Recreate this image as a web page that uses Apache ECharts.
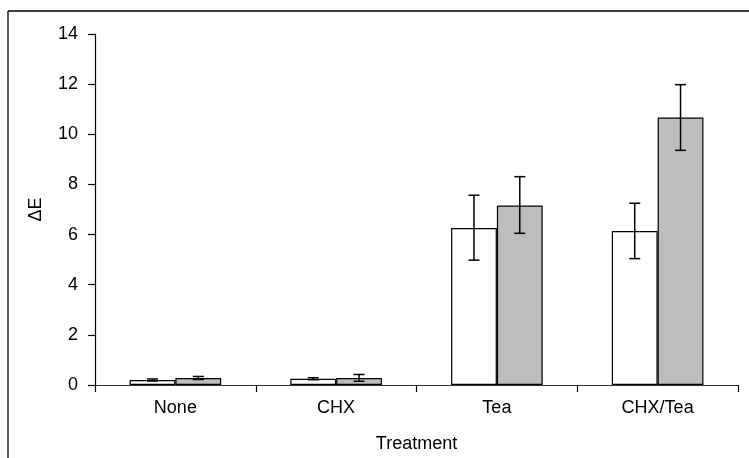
<!DOCTYPE html>
<html>
<head>
<meta charset="utf-8">
<script src="https://cdn.jsdelivr.net/npm/echarts@6/dist/echarts.min.js"></script>
<style>
  html, body { margin: 0; padding: 0; background: #fff; }
  #chart { width: 749px; height: 458px; }
</style>
</head>
<body>
<div id="chart"></div>
<script>
// Treatment groups on the x axis
const categories = ['None', 'CHX', 'Tea', 'CHX/Tea'];
// Mean colour change (ΔE) for the two groups
const whiteMeans = [0.20, 0.25, 6.26, 6.14];
const grayMeans  = [0.28, 0.28, 7.16, 10.67];
// Error bar limits [low, high]
const whiteErr = [[0.16, 0.24], [0.21, 0.29], [4.98, 7.57], [5.04, 7.25]];
const grayErr  = [[0.22, 0.34], [0.15, 0.42], [6.05, 8.31], [9.36, 11.98]];
// Y axis ticks
const yTicks = { min: 0, max: 14, interval: 2 };

const FONT = 'Liberation Sans, Arial, sans-serif';
const FS = 18;
const GAP = 0.43; // category gap fraction

function errorSeries(err, side) {
  return {
    type: 'custom',
    z: 10,
    data: err.map((e, i) => [i, e[0], e[1]]),
    renderItem: function (params, api) {
      const i = api.value(0);
      const lo = api.coord([i, api.value(1)]);
      const hi = api.coord([i, api.value(2)]);
      const band = api.size([1, 0])[0];
      const bw = band * (1 - GAP) / 2;
      const x = lo[0] + side * bw / 2;
      const cap = 5.5;
      const style = { stroke: '#000', lineWidth: 1.5 };
      return {
        type: 'group',
        children: [
          { type: 'line', shape: { x1: x, y1: lo[1], x2: x, y2: hi[1] }, style },
          { type: 'line', shape: { x1: x - cap, y1: lo[1], x2: x + cap, y2: lo[1] }, style },
          { type: 'line', shape: { x1: x - cap, y1: hi[1], x2: x + cap, y2: hi[1] }, style }
        ]
      };
    }
  };
}

const chart = echarts.init(document.getElementById('chart'), null, { renderer: 'canvas' });
chart.setOption({
  animation: false,
  backgroundColor: '#fff',
  grid: { left: 95, right: 11, top: 34, bottom: 72, containLabel: false },
  graphic: [
    { type: 'line', shape: { x1: 8, y1: 11, x2: 749, y2: 11 }, style: { stroke: '#000', lineWidth: 1.3 } },
    { type: 'line', shape: { x1: 8, y1: 11, x2: 8, y2: 458 }, style: { stroke: '#000', lineWidth: 1.3 } }
  ],
  xAxis: {
    type: 'category',
    data: categories,
    name: 'Treatment',
    nameLocation: 'middle',
    nameGap: 50,
    nameTextStyle: { fontFamily: FONT, fontSize: FS, color: '#000' },
    axisLine: { lineStyle: { color: '#333', width: 1.2 } },
    axisTick: { show: true, length: 7, inside: false, lineStyle: { color: '#000', width: 1.2 } },
    axisLabel: { fontFamily: FONT, fontSize: FS, color: '#000', margin: 14 }
  },
  yAxis: {
    type: 'value',
    min: yTicks.min,
    max: yTicks.max,
    interval: yTicks.interval,
    name: 'ΔE',
    nameLocation: 'middle',
    nameGap: 50,
    nameRotate: 90,
    nameTextStyle: { fontFamily: FONT, fontSize: FS, color: '#000' },
    axisLine: { show: true, lineStyle: { color: '#000', width: 1.2 } },
    axisTick: { show: true, length: 7, lineStyle: { color: '#000', width: 1.2 } },
    axisLabel: { fontFamily: FONT, fontSize: FS, color: '#000', margin: 17 },
    splitLine: { show: false }
  },
  series: [
    {
      type: 'bar',
      data: whiteMeans,
      barGap: '0%',
      barCategoryGap: (GAP * 100) + '%',
      itemStyle: { color: '#ffffff', borderColor: '#000', borderWidth: 1.2 }
    },
    {
      type: 'bar',
      data: grayMeans,
      itemStyle: { color: '#bdbdbd', borderColor: '#000', borderWidth: 1.2 }
    },
    errorSeries(whiteErr, -1),
    errorSeries(grayErr, 1)
  ]
});
</script>
</body>
</html>
